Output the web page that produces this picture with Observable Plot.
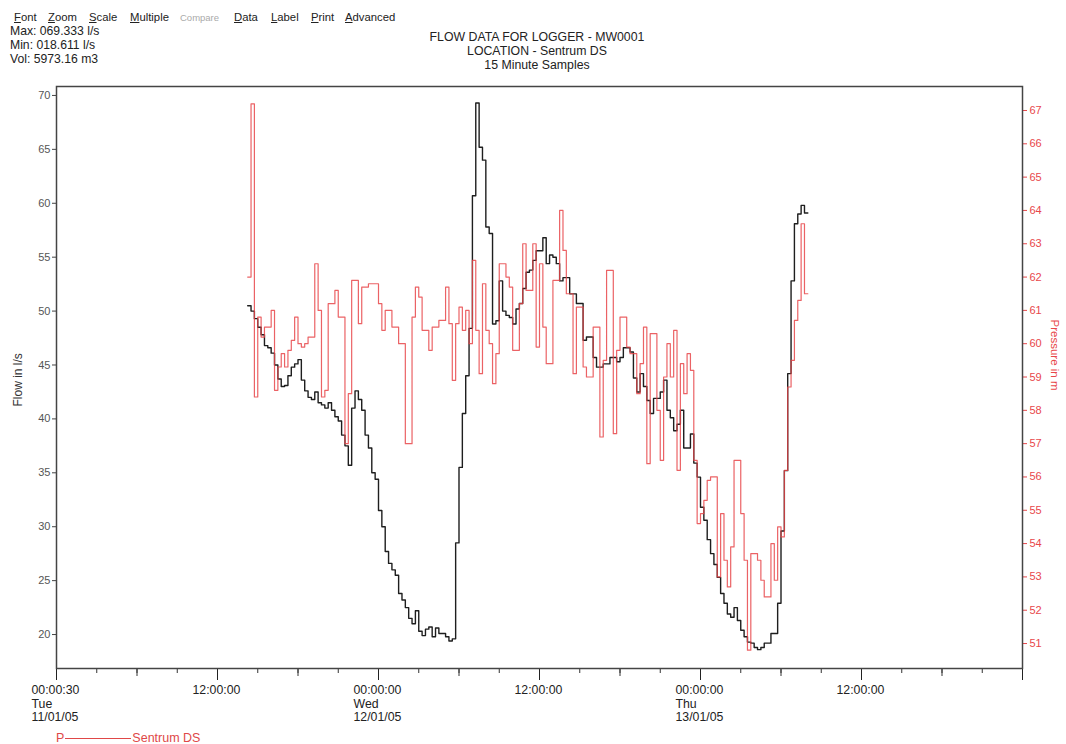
<!DOCTYPE html>
<html>
<head>
<meta charset="utf-8">
<script src="https://cdn.jsdelivr.net/npm/d3@7"></script>
<script src="https://cdn.jsdelivr.net/npm/@observablehq/plot@0.6"></script>
<style>
  html, body { margin: 0; padding: 0; background: #fff; }
  body { width: 1066px; height: 744px; position: relative; overflow: hidden;
         font-family: "Liberation Sans", Arial, sans-serif; color: #222; }
  .abs { position: absolute; white-space: nowrap; font-size: 12.2px; line-height: 14px; }
  .menu span { position: absolute; top: 0; font-size: 11.3px; }
  .title { position: absolute; left: 387px; width: 300px; text-align: center; font-size: 12.3px; }
  #chart { position: absolute; left: 0; top: 80px; }
  #legend { position: absolute; left: 56px; top: 731px; font-size: 12.5px; color: #e04848; line-height: 14px; white-space: nowrap; }
</style>
</head>
<body>
<div class="abs menu" style="left:14px; top:10px; width:400px; height:14px;">
  <span style="left:0px"><u>F</u>ont</span>
  <span style="left:34px"><u>Z</u>oom</span>
  <span style="left:75px"><u>S</u>cale</span>
  <span style="left:116px"><u>M</u>ultiple</span>
  <span style="left:166px; top:1px; color:#aaa; font-size:9.5px">Compare</span>
  <span style="left:220px"><u>D</u>ata</span>
  <span style="left:257px"><u>L</u>abel</span>
  <span style="left:297px"><u>P</u>rint</span>
  <span style="left:331px"><u>A</u>dvanced</span>
</div>
<div class="abs" style="left:10px; top:24px;">Max: 069.333 l/s</div>
<div class="abs" style="left:10px; top:38px;">Min: 018.611 l/s</div>
<div class="abs" style="left:10px; top:52px;">Vol: 5973.16 m3</div>
<div class="abs title" style="top:30px;">FLOW DATA FOR LOGGER - MW0001</div>
<div class="abs title" style="top:44px;">LOCATION - Sentrum DS</div>
<div class="abs title" style="top:58px;">15 Minute Samples</div>
<div id="chart"></div>
<div id="legend"><span>P</span><span style="display:inline-block; width:66px; height:0; border-top:1.2px solid #e04848; vertical-align:middle; margin:0 1px;"></span><span>Sentrum DS</span></div>
<script>
// ---- data (15 minute samples starting Tue 11/01/05 14:15) ----
const startTime = Date.UTC(2005, 0, 11, 14, 15);
const stepMinutes = 15;
const flow = [
  50.5, 50.0, 49.3, 48.5, 47.8, 46.8, 46.6, 46.1, 45.0, 43.7,
  43.0, 43.1, 44.0, 44.8, 45.1, 45.5, 43.6, 42.6, 42.0, 41.8,
  42.5, 41.5, 41.3, 41.0, 41.5, 40.8, 40.2, 39.8, 38.5, 37.5,
  35.7, 41.0, 42.6, 41.8, 40.8, 38.5, 37.3, 35.0, 34.4, 31.5,
  30.0, 27.7, 26.6, 26.0, 25.5, 23.8, 23.2, 22.5, 21.5, 21.0,
  22.2, 20.3, 19.9, 20.5, 20.7, 19.8, 20.6, 20.1, 20.1, 19.8,
  19.4, 19.6, 28.5, 35.5, 40.5, 44.0, 48.4, 60.7, 69.3, 65.2,
  64.0, 57.8, 57.2, 48.8, 49.1, 52.8, 50.0, 49.6, 49.4, 48.8,
  50.2, 50.7, 52.1, 53.6, 53.8, 54.7, 55.6, 55.6, 56.8, 54.4,
  55.2, 55.0, 54.4, 52.8, 53.1, 53.1, 51.6, 51.6, 50.7, 50.7,
  47.3, 47.6, 47.6, 45.7, 44.8, 44.8, 45.1, 45.1, 45.7, 45.7,
  45.3, 45.7, 46.6, 46.6, 46.2, 43.8, 42.5, 44.2, 43.0, 41.7,
  40.5, 41.9, 41.9, 42.5, 43.6, 40.8, 40.1, 38.9, 39.5, 40.8,
  37.3, 37.3, 38.6, 35.9, 34.6, 31.8, 30.6, 28.8, 27.5, 26.5,
  25.3, 23.8, 22.9, 21.9, 21.6, 22.5, 21.3, 20.4, 19.8, 19.3,
  19.2, 18.8, 18.6, 18.8, 19.2, 19.2, 20.1, 20.1, 22.9, 29.6,
  35.2, 44.2, 52.8, 58.1, 59.0, 59.8, 59.1
];
const pressure = [
  62.0, 67.2, 58.4, 60.8, 60.2, 60.5, 60.5, 61.0, 58.6, 59.3,
  59.7, 59.3, 59.8, 60.1, 60.8, 60.0, 59.9, 60.0, 60.2, 60.2,
  62.4, 61.0, 58.4, 58.6, 61.2, 61.2, 61.6, 60.8, 60.8, 57.0,
  58.5, 61.9, 61.9, 60.6, 61.7, 61.7, 61.8, 61.8, 61.8, 61.2,
  60.4, 61.0, 61.0, 60.5, 60.5, 60.0, 60.0, 57.0, 57.0, 60.8,
  61.7, 61.4, 60.4, 60.4, 59.8, 60.5, 60.5, 60.7, 60.7, 61.7,
  60.6, 58.9, 60.6, 61.1, 60.4, 61.0, 60.0, 62.5, 60.4, 59.1,
  61.8, 60.4, 60.0, 58.8, 59.7, 62.4, 62.4, 62.0, 61.7, 59.8,
  59.8, 61.2, 63.0, 61.6, 61.6, 63.0, 59.9, 62.4, 60.5, 59.4,
  59.4, 61.9, 61.9, 64.0, 62.8, 61.5, 61.5, 59.1, 61.1, 61.1,
  59.3, 59.0, 59.0, 60.5, 60.5, 57.2, 59.5, 62.2, 62.2, 57.3,
  59.8, 60.8, 60.8, 59.9, 59.7, 59.7, 58.5, 59.4, 60.5, 56.4,
  60.3, 60.3, 58.0, 56.5, 59.0, 60.0, 59.0, 60.4, 56.2, 59.4,
  58.5, 59.7, 59.2, 56.5, 54.6, 54.9, 55.3, 55.9, 56.0, 56.0,
  53.0, 54.9, 53.5, 52.7, 53.9, 56.5, 56.5, 54.9, 53.5, 50.8,
  53.7, 53.7, 53.5, 52.9, 52.4, 52.4, 54.0, 52.9, 54.5, 54.2,
  56.2, 58.7, 59.5, 60.7, 61.3, 63.6, 61.5
];
const flowTicks = [20, 25, 30, 35, 40, 45, 50, 55, 60, 65, 70];
const pressureTicks = [51, 52, 53, 54, 55, 56, 57, 58, 59, 60, 61, 62, 63, 64, 65, 66, 67];
const xLabelHours = [0, 12, 24, 36, 48, 60];
const xLabels = ["00:00:30\nTue\n11/01/05", "12:00:00", "00:00:00\nWed\n12/01/05", "12:00:00", "00:00:00\nThu\n13/01/05", "12:00:00"];

// ---- scales ----
const day0 = Date.UTC(2005, 0, 11);
const hour = 3600000;
const xDomain = [new Date(day0), new Date(day0 + 72 * hour)];
const yDomain = [16.85, 70.83];
// pressure (m) is drawn on the flow scale via the right-hand axis mapping
const pToFlow = p => 19.165 + 3.090 * (p - 51);
const flowToP = f => Math.round((f - 19.165) / 3.090 + 51);

const rows = flow.map((v, i) => ({t: new Date(startTime + i * stepMinutes * 60000), flow: v, p: pressure[i]}));
const last = rows[rows.length - 1];
rows.push({t: new Date(last.t.getTime() + stepMinutes * 60000), flow: last.flow, p: last.p});

const hoursBy = step => d3.range(0, 73, step).map(h => new Date(day0 + h * hour));
const labelData = xLabelHours.map((h, i) => ({t: new Date(day0 + h * hour), label: xLabels[i]}));

const red = "#e8474a";
const chart = Plot.plot({
  width: 1066,
  height: 650,
  marginTop: 6,
  marginBottom: 62,
  marginLeft: 56,
  marginRight: 44,
  style: {fontFamily: "'Liberation Sans', Arial, sans-serif", fontSize: "11px", background: "#fff", color: "#333"},
  x: {type: "utc", domain: xDomain},
  y: {domain: yDomain},
  marks: [
    Plot.axisY({ticks: flowTicks, tickSize: 4, tickPadding: 2, tickFormat: d => String(d), label: null, stroke: "#444", fill: "#555", fontSize: 11}),
    Plot.axisY({anchor: "right", ticks: pressureTicks.map(pToFlow), tickSize: 4, tickPadding: 3, tickFormat: f => String(flowToP(f)), label: null, stroke: red, fill: red, fontSize: 11}),
    Plot.axisX({ticks: hoursBy(3), tickSize: 5, tickFormat: () => "", label: null, stroke: "#333"}),
    Plot.axisX({ticks: hoursBy(6), tickSize: 8, tickFormat: () => "", label: null, stroke: "#333"}),
    Plot.axisX({ticks: hoursBy(12), tickSize: 12, tickFormat: () => "", label: null, stroke: "#222"}),
    Plot.text(labelData, {x: "t", frameAnchor: "bottom", text: "label", textAnchor: "start", lineAnchor: "top", dx: -25, dy: 16, lineHeight: 1.1, fill: "#222", fontSize: 12.3}),
    Plot.text(["Flow in l/s"], {frameAnchor: "left", rotate: -90, dx: -38, dy: 29, fill: "#333", fontSize: 12}),
    Plot.text(["Pressure in m"], {frameAnchor: "right", rotate: 90, dx: 32, dy: 13, fill: red, fontSize: 11.5}),
    Plot.line(rows, {x: "t", y: "flow", curve: "step-after", stroke: "#1e1e1e", strokeWidth: 1.4}),
    Plot.line(rows, {x: "t", y: d => pToFlow(d.p), curve: "step-after", stroke: red, strokeWidth: 1.2, strokeOpacity: 0.85}),
    Plot.frame({stroke: "#444", strokeWidth: 1.5})
  ]
});
document.getElementById("chart").appendChild(chart);
</script>
</body>
</html>
